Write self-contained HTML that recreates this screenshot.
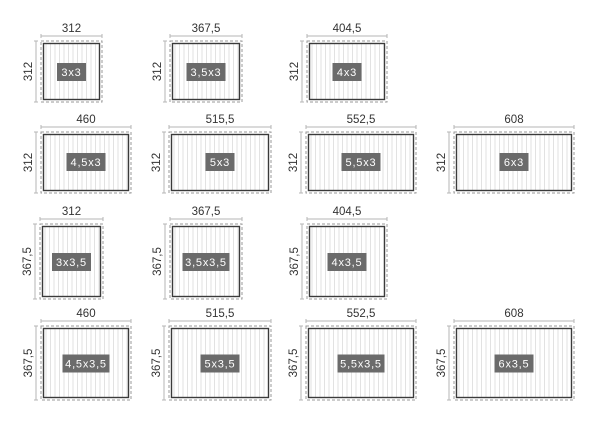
<!DOCTYPE html>
<html><head><meta charset="utf-8"><style>
html,body{margin:0;padding:0;background:#fff;}
svg{display:block;font-family:"Liberation Sans","DejaVu Sans",sans-serif;}
.o{fill:none;stroke:#9a9a9a;stroke-width:1;stroke-dasharray:3 2;}
.i{fill:url(#st);stroke:#3a3a3a;stroke-width:1.4;}
.d{stroke:#b5b5b5;stroke-width:1;fill:none;}
.n{font-size:11.5px;fill:#333;text-anchor:middle;}
.lb{fill:#6b6b6b;}
.lt{font-size:11px;fill:#fff;text-anchor:middle;letter-spacing:0.8px;}
</style></head><body>
<svg width="600" height="427" viewBox="0 0 600 427" xmlns="http://www.w3.org/2000/svg">
<defs>
<pattern id="st" width="4.5" height="10" patternUnits="userSpaceOnUse">
<rect width="4.5" height="10" fill="#fff"/>
<line x1="0.5" y1="0" x2="0.5" y2="10" stroke="#e2e2e2" stroke-width="1"/>
</pattern>
</defs>

<!-- Row 1 -->
<g transform="translate(41,41)">
<path class="d" d="M0 -5H61M0 -7V-3M61 -7V-3M-5 0V61M-7 0H-3M-7 61H-3"/>
<rect class="o" x="0" y="0" width="61" height="61"/>
<rect class="i" x="2.5" y="2.5" width="56" height="56"/>
<text class="n" x="30.5" y="-9">312</text>
<text class="n" transform="translate(-9,30.5) rotate(-90)">312</text>
<rect class="lb" x="16" y="22" width="29" height="18"/><text class="lt" x="30.5" y="35">3x3</text>
</g>
<g transform="translate(170,41)">
<path class="d" d="M0 -5H72M0 -7V-3M72 -7V-3M-5 0V61M-7 0H-3M-7 61H-3"/>
<rect class="o" x="0" y="0" width="72" height="61"/>
<rect class="i" x="2.5" y="2.5" width="67" height="56"/>
<text class="n" x="36" y="-9">367,5</text>
<text class="n" transform="translate(-9,30.5) rotate(-90)">312</text>
<rect class="lb" x="16.5" y="22" width="39" height="18"/><text class="lt" x="36" y="35">3,5x3</text>
</g>
<g transform="translate(307,41)">
<path class="d" d="M0 -5H80M0 -7V-3M80 -7V-3M-5 0V61M-7 0H-3M-7 61H-3"/>
<rect class="o" x="0" y="0" width="80" height="61"/>
<rect class="i" x="2.5" y="2.5" width="75" height="56"/>
<text class="n" x="40" y="-9">404,5</text>
<text class="n" transform="translate(-9,30.5) rotate(-90)">312</text>
<rect class="lb" x="25.5" y="22" width="29" height="18"/><text class="lt" x="40" y="35">4x3</text>
</g>

<!-- Row 2 -->
<g transform="translate(41,132)">
<path class="d" d="M0 -5H90M0 -7V-3M90 -7V-3M-5 0V61M-7 0H-3M-7 61H-3"/>
<rect class="o" x="0" y="0" width="90" height="61"/>
<rect class="i" x="2.5" y="2.5" width="85" height="56"/>
<text class="n" x="45" y="-9">460</text>
<text class="n" transform="translate(-9,30.5) rotate(-90)">312</text>
<rect class="lb" x="25.5" y="21" width="39" height="18"/><text class="lt" x="45" y="34">4,5x3</text>
</g>
<g transform="translate(169,132)">
<path class="d" d="M0 -5H102M0 -7V-3M102 -7V-3M-5 0V61M-7 0H-3M-7 61H-3"/>
<rect class="o" x="0" y="0" width="102" height="61"/>
<rect class="i" x="2.5" y="2.5" width="97" height="56"/>
<text class="n" x="51" y="-9">515,5</text>
<text class="n" transform="translate(-9,30.5) rotate(-90)">312</text>
<rect class="lb" x="36.5" y="21" width="29" height="18"/><text class="lt" x="51" y="34">5x3</text>
</g>
<g transform="translate(306,132)">
<path class="d" d="M0 -5H110M0 -7V-3M110 -7V-3M-5 0V61M-7 0H-3M-7 61H-3"/>
<rect class="o" x="0" y="0" width="110" height="61"/>
<rect class="i" x="2.5" y="2.5" width="105" height="56"/>
<text class="n" x="55" y="-9">552,5</text>
<text class="n" transform="translate(-9,30.5) rotate(-90)">312</text>
<rect class="lb" x="35.5" y="21" width="39" height="18"/><text class="lt" x="55" y="34">5,5x3</text>
</g>
<g transform="translate(454,132)">
<path class="d" d="M0 -5H120M0 -7V-3M120 -7V-3M-5 0V61M-7 0H-3M-7 61H-3"/>
<rect class="o" x="0" y="0" width="120" height="61"/>
<rect class="i" x="2.5" y="2.5" width="115" height="56"/>
<text class="n" x="60" y="-9">608</text>
<text class="n" transform="translate(-9,30.5) rotate(-90)">312</text>
<rect class="lb" x="45.5" y="21" width="29" height="18"/><text class="lt" x="60" y="34">6x3</text>
</g>

<!-- Row 3 -->
<g transform="translate(40,224)">
<path class="d" d="M0 -5H63M0 -7V-3M63 -7V-3M-5 0V75M-7 0H-3M-7 75H-3"/>
<rect class="o" x="0" y="0" width="63" height="75"/>
<rect class="i" x="2.5" y="2.5" width="58" height="70"/>
<text class="n" x="31.5" y="-9">312</text>
<text class="n" transform="translate(-9,37.5) rotate(-90)">367,5</text>
<rect class="lb" x="12" y="29" width="39" height="18"/><text class="lt" x="31.5" y="42">3x3,5</text>
</g>
<g transform="translate(170,224)">
<path class="d" d="M0 -5H72M0 -7V-3M72 -7V-3M-5 0V75M-7 0H-3M-7 75H-3"/>
<rect class="o" x="0" y="0" width="72" height="75"/>
<rect class="i" x="2.5" y="2.5" width="67" height="70"/>
<text class="n" x="36" y="-9">367,5</text>
<text class="n" transform="translate(-9,37.5) rotate(-90)">367,5</text>
<rect class="lb" x="12.5" y="29" width="47" height="18"/><text class="lt" x="36" y="42">3,5x3,5</text>
</g>
<g transform="translate(307,224)">
<path class="d" d="M0 -5H80M0 -7V-3M80 -7V-3M-5 0V75M-7 0H-3M-7 75H-3"/>
<rect class="o" x="0" y="0" width="80" height="75"/>
<rect class="i" x="2.5" y="2.5" width="75" height="70"/>
<text class="n" x="40" y="-9">404,5</text>
<text class="n" transform="translate(-9,37.5) rotate(-90)">367,5</text>
<rect class="lb" x="20.5" y="29" width="39" height="18"/><text class="lt" x="40" y="42">4x3,5</text>
</g>

<!-- Row 4 -->
<g transform="translate(41,326)">
<path class="d" d="M0 -5H90M0 -7V-3M90 -7V-3M-5 0V74M-7 0H-3M-7 74H-3"/>
<rect class="o" x="0" y="0" width="90" height="74"/>
<rect class="i" x="2.5" y="2.5" width="85" height="69"/>
<text class="n" x="45" y="-9">460</text>
<text class="n" transform="translate(-9,37) rotate(-90)">367,5</text>
<rect class="lb" x="21.5" y="28.5" width="47" height="18"/><text class="lt" x="45" y="41.5">4,5x3,5</text>
</g>
<g transform="translate(169,326)">
<path class="d" d="M0 -5H102M0 -7V-3M102 -7V-3M-5 0V74M-7 0H-3M-7 74H-3"/>
<rect class="o" x="0" y="0" width="102" height="74"/>
<rect class="i" x="2.5" y="2.5" width="97" height="69"/>
<text class="n" x="51" y="-9">515,5</text>
<text class="n" transform="translate(-9,37) rotate(-90)">367,5</text>
<rect class="lb" x="31.5" y="28.5" width="39" height="18"/><text class="lt" x="51" y="41.5">5x3,5</text>
</g>
<g transform="translate(306,326)">
<path class="d" d="M0 -5H110M0 -7V-3M110 -7V-3M-5 0V74M-7 0H-3M-7 74H-3"/>
<rect class="o" x="0" y="0" width="110" height="74"/>
<rect class="i" x="2.5" y="2.5" width="105" height="69"/>
<text class="n" x="55" y="-9">552,5</text>
<text class="n" transform="translate(-9,37) rotate(-90)">367,5</text>
<rect class="lb" x="31.5" y="28.5" width="47" height="18"/><text class="lt" x="55" y="41.5">5,5x3,5</text>
</g>
<g transform="translate(454,326)">
<path class="d" d="M0 -5H120M0 -7V-3M120 -7V-3M-5 0V74M-7 0H-3M-7 74H-3"/>
<rect class="o" x="0" y="0" width="120" height="74"/>
<rect class="i" x="2.5" y="2.5" width="115" height="69"/>
<text class="n" x="60" y="-9">608</text>
<text class="n" transform="translate(-9,37) rotate(-90)">367,5</text>
<rect class="lb" x="40.5" y="28.5" width="39" height="18"/><text class="lt" x="60" y="41.5">6x3,5</text>
</g>
</svg>
</body></html>
